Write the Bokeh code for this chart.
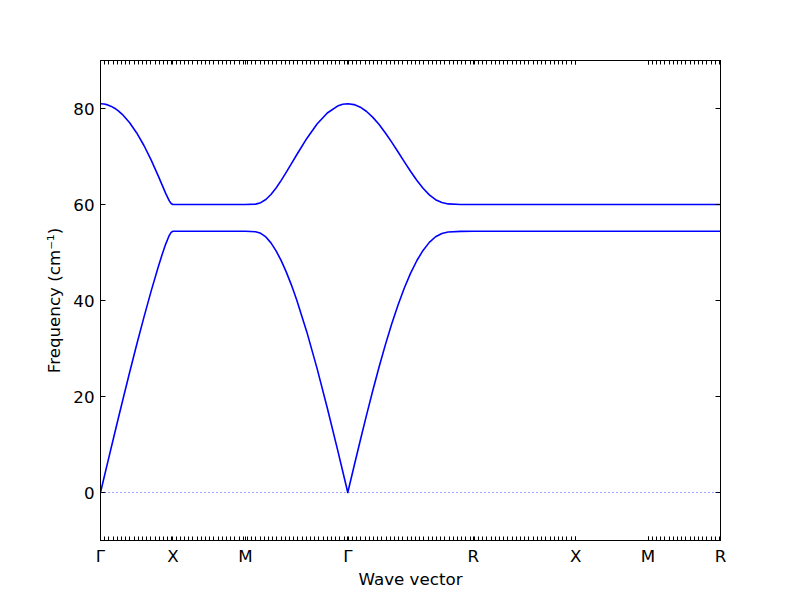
import numpy as np
from bokeh.plotting import figure
from bokeh.models import Range1d, FixedTicker, LinearAxis, Span, CustomJSTickFormatter
from bokeh.embed import file_html
from bokeh.resources import INLINE

# ---- high-symmetry path ----
K_LABELS = ["Γ", "X", "M", "Γ", "R", "X", "M", "R"]
K_POS = [0.0, 1.0, 2.0, 3.414, 5.146, 6.56, 7.56, 8.56]

# ---- band values (cm^-1), per path segment ----
# Γ -> X
GX_FRAC = [0.0, 0.05, 0.1, 0.15, 0.2, 0.25, 0.3, 0.4, 0.5, 0.6, 0.7, 0.8, 0.85, 0.9, 0.95, 0.975, 1.0]
GX_UPPER = [81.0, 80.94, 80.75, 80.44, 80.01, 79.46, 78.79, 77.08, 74.91, 72.29, 69.26, 65.87, 64.09, 62.31, 60.75, 60.21, 60.0]
GX_LOWER = [0.0, 3.17, 6.32, 9.47, 12.61, 15.72, 18.81, 24.90, 30.82, 36.54, 42.00, 47.14, 49.54, 51.75, 53.58, 54.19, 54.42]
# X -> M
XM_FRAC = [0.0, 1.0]
XM_UPPER = [60.0, 60.0]
XM_LOWER = [54.42, 54.42]
# M -> Γ
MG_FRAC = [0.0, 0.1, 0.15, 0.2, 0.25, 0.3, 0.35, 0.4, 0.45, 0.5, 0.6, 0.7, 0.8, 0.9, 0.95, 1.0]
MG_UPPER = [60.0, 60.08, 60.38, 61.05, 62.09, 63.45, 65.02, 66.73, 68.51, 70.31, 73.76, 76.76, 79.06, 80.51, 80.88, 81.0]
MG_LOWER = [54.42, 54.32, 53.99, 53.24, 52.01, 50.35, 48.31, 45.91, 43.21, 40.21, 33.46, 25.86, 17.61, 8.92, 4.47, 0.0]
# Γ -> R
GR_FRAC = [0.0, 0.05, 0.1, 0.15, 0.2, 0.25, 0.3, 0.35, 0.4, 0.45, 0.5, 0.55, 0.6, 0.65, 0.7, 0.75, 0.8, 0.9, 1.0]
GR_UPPER = [81.0, 80.81, 80.27, 79.37, 78.15, 76.65, 74.91, 73.00, 70.98, 68.93, 66.92, 65.04, 63.38, 62.01, 61.01, 60.40, 60.12, 60.0, 60.0]
GR_LOWER = [0.0, 5.48, 10.89, 16.18, 21.30, 26.19, 30.81, 35.09, 39.02, 42.54, 45.64, 48.28, 50.44, 52.11, 53.28, 53.97, 54.28, 54.41, 54.42]
# R -> X, X -> M, M -> R
RX_FRAC = [0.0, 1.0]
RX_UPPER = [60.0, 60.0]
RX_LOWER = [54.42, 54.42]
XM2_FRAC = [0.0, 1.0]
XM2_UPPER = [60.0, 60.0]
XM2_LOWER = [54.42, 54.42]
MR_FRAC = [0.0, 1.0]
MR_UPPER = [60.0, 60.0]
MR_LOWER = [54.42, 54.42]

Y_TICKS = [0, 20, 40, 60, 80]

SEGMENTS = [
    (GX_FRAC, GX_UPPER, GX_LOWER),
    (XM_FRAC, XM_UPPER, XM_LOWER),
    (MG_FRAC, MG_UPPER, MG_LOWER),
    (GR_FRAC, GR_UPPER, GR_LOWER),
    (RX_FRAC, RX_UPPER, RX_LOWER),
    (XM2_FRAC, XM2_UPPER, XM2_LOWER),
    (MR_FRAC, MR_UPPER, MR_LOWER),
]

xs, up, lo = [], [], []
for i, (fr, u, l) in enumerate(SEGMENTS):
    a, b = K_POS[i], K_POS[i + 1]
    xs += [a + f * (b - a) for f in fr]
    up += list(u)
    lo += list(l)

FONT = "DejaVu Sans"
FS = "16.7px"

p = figure(frame_width=620, frame_height=480,
           x_range=Range1d(K_POS[0], K_POS[-1]), y_range=Range1d(-10, 90),
           output_backend="svg", toolbar_location=None,
           min_border_left=100, min_border_right=64,
           min_border_top=60, min_border_bottom=44)
p.background_fill_color = "white"
p.border_fill_color = "white"
p.outline_line_color = "black"
p.outline_line_width = 1
p.grid.visible = False

# zero line
p.add_layout(Span(location=0, dimension="width", line_color="blue",
                  line_width=1, line_dash="1 3", line_alpha=0.7))

p.line(xs, up, line_color="#0000ff", line_width=1.6, line_join="round")
p.line(xs, lo, line_color="#0000ff", line_width=1.6, line_join="round")

# ticks
minor = list(np.arange(K_POS[0], K_POS[5] + 1e-6, 0.058)) + list(np.arange(K_POS[6], K_POS[7] + 1e-6, 0.058))
label_js = "const pos = %s; const lab = %s; for (let i = 0; i < pos.length; i++) { if (Math.abs(tick - pos[i]) < 1e-6) return lab[i]; } return '';" % (
    str(K_POS), "[" + ",".join('"%s"' % s for s in K_LABELS) + "]")


def style_axis(ax):
    ax.axis_line_color = "black"
    ax.major_tick_line_color = "black"
    ax.minor_tick_line_color = "black"
    ax.major_tick_out = 0
    ax.minor_tick_out = 0
    ax.major_label_text_font = FONT
    ax.major_label_text_font_size = FS
    ax.major_label_text_color = "black"
    ax.axis_label_text_font = FONT
    ax.axis_label_text_font_size = FS
    ax.axis_label_text_font_style = "normal"
    ax.axis_label_text_color = "black"


xb = p.xaxis[0]
xb.ticker = FixedTicker(ticks=K_POS, minor_ticks=minor)
xb.formatter = CustomJSTickFormatter(code=label_js)
style_axis(xb)
xb.major_tick_in = 4
xb.minor_tick_in = 4
xb.major_label_standoff = 5
xb.axis_label = "Wave vector"
xb.axis_label_standoff = 0

yl = p.yaxis[0]
yl.ticker = FixedTicker(ticks=Y_TICKS, minor_ticks=[])
style_axis(yl)
yl.major_tick_in = 5
yl.minor_tick_in = 0
yl.major_label_standoff = 6
yl.axis_label = "Frequency (cm⁻¹)"
yl.axis_label_standoff = 6

xt = LinearAxis(ticker=FixedTicker(ticks=K_POS, minor_ticks=minor),
                formatter=CustomJSTickFormatter(code="return ''"))
style_axis(xt)
xt.major_tick_in = 4
xt.minor_tick_in = 4
p.add_layout(xt, "above")

yr = LinearAxis(ticker=FixedTicker(ticks=Y_TICKS, minor_ticks=[]),
                formatter=CustomJSTickFormatter(code="return ''"))
style_axis(yr)
yr.major_tick_in = 5
yr.minor_tick_in = 0
p.add_layout(yr, "right")

open("out.html", "w").write(file_html(p, INLINE))
